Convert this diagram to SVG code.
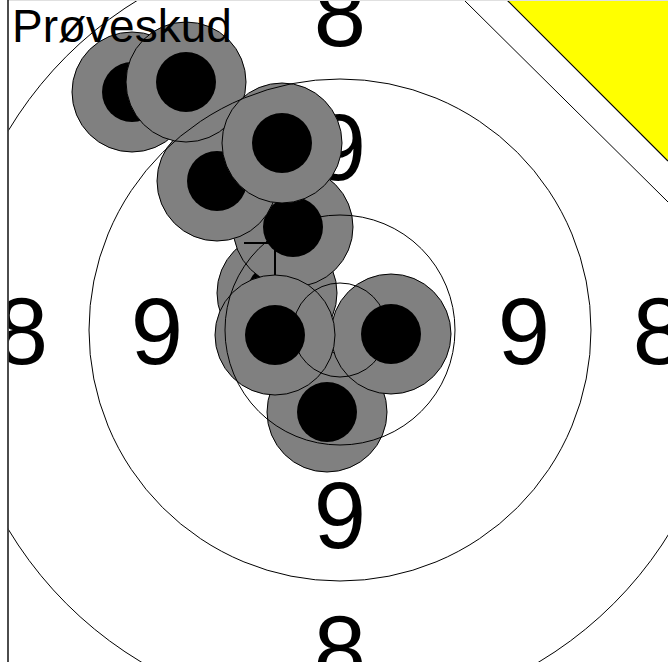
<svg xmlns="http://www.w3.org/2000/svg" width="668" height="662" viewBox="0 0 668 662">
<style>
.num{font-family:"Liberation Sans",Arial,sans-serif;font-size:94px;fill:#000;text-anchor:middle}
.ring{fill:none;stroke:#000;stroke-width:1}
.outer{fill:#808080;stroke:#000;stroke-width:1}
.inner{fill:#000}
.title{font-family:"Liberation Sans",Arial,sans-serif;font-size:46px;fill:#000}
</style>
<defs>
<clipPath id="clip"><rect x="8.7" y="0" width="660" height="662"/></clipPath>
</defs>
<rect x="0" y="0" width="668" height="662" fill="#fff"/>
<g id="target" clip-path="url(#clip)">
<g id="numbers">
<text class="num" x="340" y="46">8</text>
<text class="num" x="340" y="180">9</text>
<text class="num" x="22" y="364">8</text>
<text class="num" x="157" y="364">9</text>
<text class="num" x="524" y="364">9</text>
<text class="num" x="659" y="364">8</text>
<text class="num" x="340" y="548">9</text>
<text class="num" x="340" y="682">8</text>
</g>
<g id="shots">
<g id="shot1"><circle class="outer" cx="132" cy="92" r="60"/><circle class="inner" cx="132" cy="92" r="30"/></g>
<g id="shot9"><circle class="outer" cx="327" cy="412" r="60"/><circle class="inner" cx="327" cy="412" r="30"/></g>
<g id="shot6"><circle class="outer" cx="277" cy="293" r="60"/><circle class="inner" cx="277" cy="293" r="30"/></g>
<g id="shot5"><circle class="outer" cx="293" cy="227" r="60"/><circle class="inner" cx="293" cy="227" r="30"/></g>
<g id="shot3"><circle class="outer" cx="217" cy="181" r="60"/><circle class="inner" cx="217" cy="181" r="30"/></g>
<g id="shot2"><circle class="outer" cx="186" cy="82" r="60"/><circle class="inner" cx="186" cy="82" r="30"/></g>
<g id="shot4"><circle class="outer" cx="282" cy="143" r="60"/><circle class="inner" cx="282" cy="143" r="30"/></g>
<g id="mark"><path d="M244,243 H306 M275,243 V306" fill="none" stroke="#000" stroke-width="2"/></g>
<g id="shot8"><circle class="outer" cx="391" cy="334" r="60"/><circle class="inner" cx="391" cy="334" r="30"/></g>
<g id="shot7"><circle class="outer" cx="275" cy="335" r="60"/><circle class="inner" cx="275" cy="335" r="30"/></g>
</g>
<g id="rings">
<circle class="ring" cx="340" cy="330" r="47"/>
<circle class="ring" cx="340" cy="330" r="115"/>
<circle class="ring" cx="340" cy="330" r="251"/>
<circle class="ring" cx="340" cy="330" r="387"/>
</g>
<g id="corner">
<polygon points="507,0 668,0 668,161" fill="#ffff00"/>
<line x1="507" y1="0" x2="668" y2="161" stroke="#000" stroke-width="1.2"/>
<line x1="464" y1="0" x2="668" y2="202" stroke="#000" stroke-width="1"/>
</g>
</g>
<line x1="8" y1="0.5" x2="668" y2="0.5" stroke="#e0e0e0" stroke-width="1"/>
<line x1="8" y1="0" x2="8" y2="662" stroke="#000" stroke-width="1.4"/>
<text class="title" x="12" y="42">Prøveskud</text>
</svg>
